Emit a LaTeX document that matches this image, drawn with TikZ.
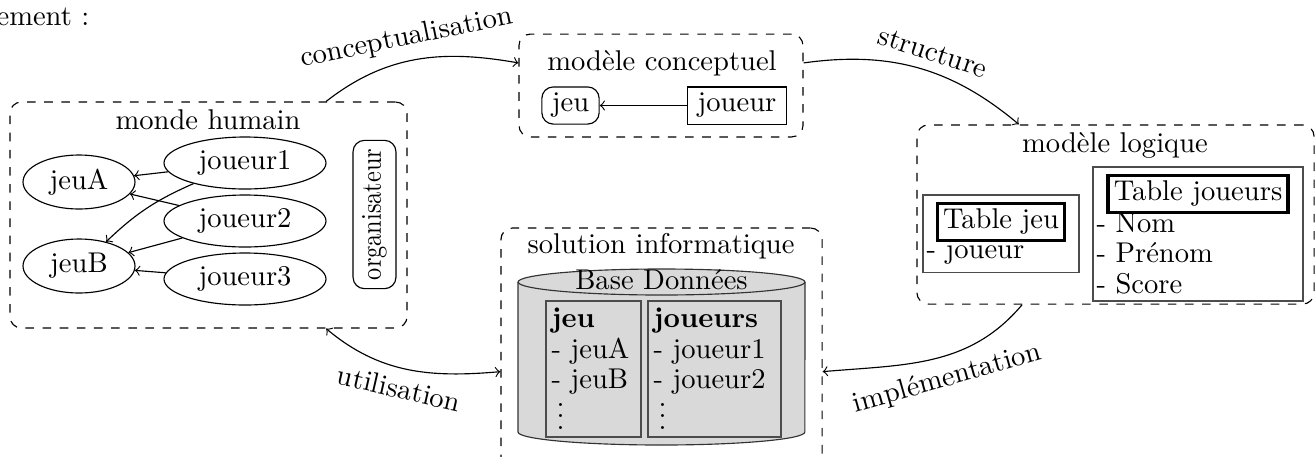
\documentclass[tikz,border=0pt]{standalone}
\usepackage{fontspec}
\usepackage{graphicx}
\usetikzlibrary{shapes.geometric}

\begin{document}
\begin{tikzpicture}[x=0.35pt, y=0.35pt,
  groupbox/.style={rectangle, draw, dashed, rounded corners},
  entity/.style={ellipse, draw, inner sep=1pt},
  tablebox/.style={rectangle, draw=black!70},
  headbox/.style={rectangle, draw, line width=1.2pt, inner sep=2pt},
  rowtext/.style={anchor=base west, inner sep=0pt},
  dbcol/.style={rectangle, draw=black!70, fill=black!15}]
\useasboundingbox (0,0) rectangle (1316,-456);
\clip (0,0) rectangle (1316,-456);

\node[rowtext] (intro) at (-4,-25) {ement :};

% Monde humain
\node[groupbox, minimum width=139pt, minimum height=79.1pt] (monde) at (208.5,-215) {};
\node (mondetitle) at (208,-120) {monde humain};
\node[entity, minimum width=39.2pt, minimum height=18.9pt] (jeuA) at (79,-182) {jeuA};
\node[entity, minimum width=39.2pt, minimum height=18.9pt] (jeuB) at (79,-266) {jeuB};
\node[entity, minimum width=56.7pt, minimum height=18.2pt] (joueur1) at (245,-163) {joueur1};
\node[entity, minimum width=56.7pt, minimum height=18.2pt] (joueur2) at (245,-221) {joueur2};
\node[entity, minimum width=56.7pt, minimum height=18.2pt] (joueur3) at (245,-279) {joueur3};
\node[rectangle, draw, rounded corners, rotate=90, inner xsep=3pt, inner ysep=3.2pt] (orga) at (374.5,-214.5) {\scalebox{0.85}[1]{organisateur}};

\draw[->] (joueur1) -- (jeuA);
\draw[->] (joueur1) to[bend right=10] (jeuB);
\draw[->] (joueur2) -- (jeuA);
\draw[->] (joueur2) -- (jeuB);
\draw[->] (joueur3) -- (jeuB);

% Modele conceptuel
\node[groupbox, minimum width=99.4pt, minimum height=36pt] (concept) at (661,-85.5) {};
\node (concepttitle) at (662,-63) {modèle conceptuel};
\node[rectangle, draw, rounded corners, inner xsep=3.5pt, inner ysep=1.5pt, minimum height=13pt] (cjeu) at (570.5,-105.5) {jeu};
\node[rectangle, draw, inner xsep=3.5pt, inner ysep=1.5pt, minimum height=13pt] (cjoueur) at (737,-105.5) {joueur};
\draw[->] (cjoueur) -- (cjeu);

% Modele logique
\node[groupbox, minimum width=139pt, minimum height=62.7pt] (logique) at (1115.5,-214.5) {};
\node (logiquetitle) at (1115,-145) {modèle logique};
\node[tablebox, minimum width=54.6pt, minimum height=27pt] (tjeu) at (1001,-233.5) {};
\node[headbox] (tjeuhead) at (1001,-222) {Table jeu};
\node[rowtext] (tjeuA) at (926,-258) {- joueur};
\node[tablebox, minimum width=73.5pt, minimum height=46.9pt] (tjoueurs) at (1198,-234) {};
\node[headbox] (tjoueurshead) at (1198,-194) {Table joueurs};
\node[rowtext] (tjoueursA) at (1096,-232) {- Nom};
\node[rowtext] (tjoueursB) at (1096,-262) {- Prénom};
\node[rowtext] (tjoueursC) at (1096,-293) {- Score};

% Solution informatique
\node[groupbox, minimum width=112.4pt, minimum height=84.7pt] (solution) at (661.5,-349) {};
\node (solutiontitle) at (661,-246) {solution informatique};
\draw[draw=black!80, fill=black!15] (518,-282) -- (518,-432) arc[start angle=180, end angle=360, x radius=50.2pt, y radius=4.55pt] -- (805,-282);
\draw[draw=black!80, fill=black!15] (661.5,-282) ellipse [x radius=50.2pt, y radius=4.55pt];
\node (dbtitle) at (661.5,-280) {Base Données};
\node[dbcol, minimum width=33.25pt, minimum height=47.6pt] (dbjeu) at (593.5,-369) {};
\node[dbcol, minimum width=46.55pt, minimum height=47.6pt] (dbjoueurs) at (714.5,-369) {};
\node[rowtext] (dbjeuA) at (551,-327) {\textbf{jeu}};
\node[rowtext] (dbjeuB) at (551,-358) {- jeuA};
\node[rowtext] (dbjeuC) at (551,-388) {- jeuB};
\node[rowtext] (dbjeuD) at (556,-429) {\raisebox{0pt}[8.5pt][0pt]{\vdots}};
\node[rowtext] (dbjoueursA) at (653,-327) {\textbf{joueurs}};
\node[rowtext] (dbjoueursB) at (653,-358) {- joueur1};
\node[rowtext] (dbjoueursC) at (653,-388) {- joueur2};
\node[rowtext] (dbjoueursD) at (658,-429) {\raisebox{0pt}[8.5pt][0pt]{\vdots}};

% Arrows
\draw[->] (monde.44) to[out=38, in=170] node[pos=0.47, above, sloped] {conceptualisation} (concept.171);
\draw[->] (concept.9) to[out=8, in=140] node[pos=0.54, above, sloped] {structure} (logique.137);
\draw[->] (logique.224) to[out=230, in=5] node[pos=0.46, below, sloped] {implémentation} (solution.352);
\draw[<->] (monde.316) to[out=-40, in=185] node[pos=0.48, below, sloped] {utilisation} (solution.188);
\end{tikzpicture}
\end{document}
